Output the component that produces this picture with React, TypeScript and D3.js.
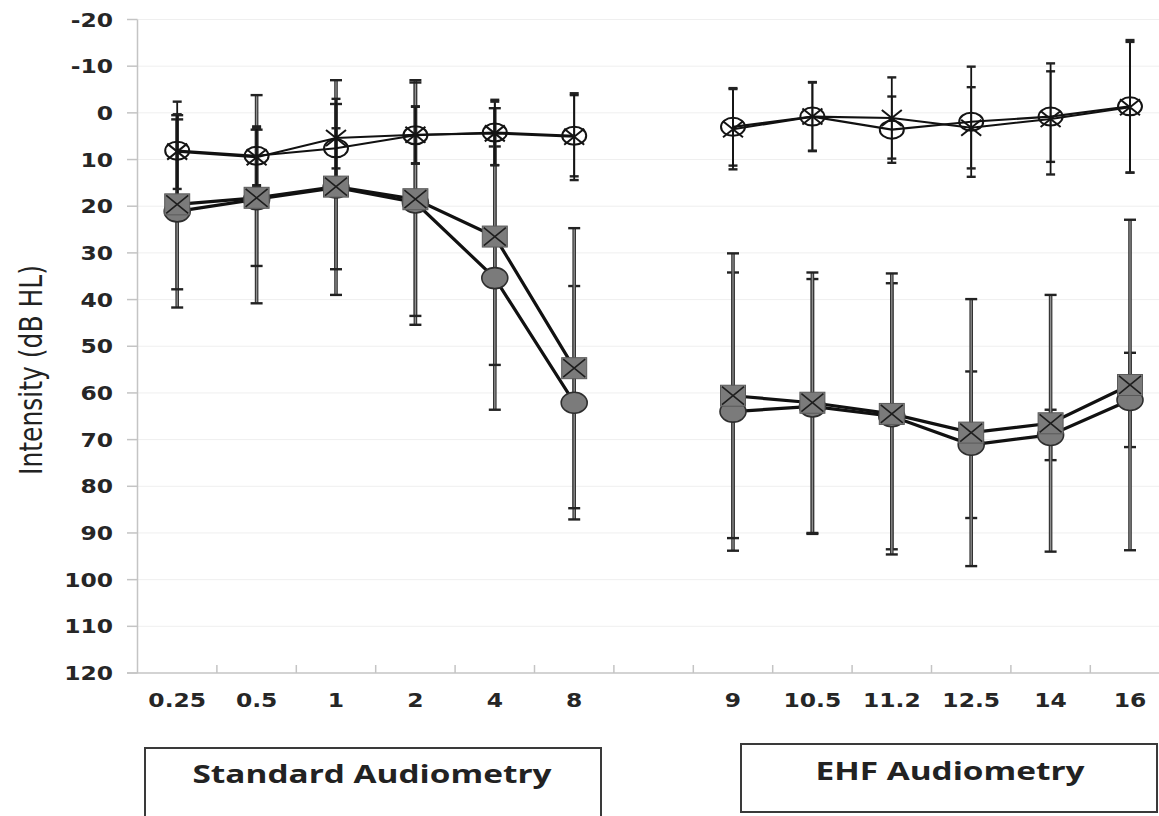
import React from 'react';
import * as d3 from 'd3';

// frequency categories (kHz); a blank slot separates the two audiometry blocks
const standardFreqs = ['0.25', '0.5', '1', '2', '4', '8'];
const ehfFreqs = ['9', '10.5', '11.2', '12.5', '14', '16'];
const gapKey = 'gap';
const categories = [...standardFreqs, gapKey, ...ehfFreqs];
const freqs = [...standardFreqs, ...ehfFreqs];

const yTicks = [-20, -10, 0, 10, 20, 30, 40, 50, 60, 70, 80, 90, 100, 110, 120];

// upper group (thin lines)
const openCircleMean = [8.1, 9.2, 7.6, 4.8, 4.2, 4.9, 3.0, 0.8, 3.6, 1.9, 0.8, -1.4];
const openCircleSd = [10.5, 6.3, 4.3, 6.1, 7.0, 8.7, 8.3, 7.4, 7.1, 11.8, 9.7, 14.2];
const crossMean = [8.3, 9.5, 5.4, 4.7, 4.4, 5.1, 3.5, 0.8, 1.1, 3.2, 1.3, -1.2];
const crossSd = [8.0, 6.3, 8.4, 6.1, 6.8, 9.3, 8.6, 7.3, 8.7, 8.7, 11.9, 14.0];

// lower group (thick lines)
const filledCircleMean = [21.1, 18.5, 16.0, 19.2, 35.4, 62.1, 64.0, 62.9, 65.0, 71.1, 69.0, 61.5];
const filledCircleSd = [20.6, 22.3, 23.0, 26.2, 28.2, 25.0, 29.8, 27.3, 28.5, 15.7, 5.4, 10.1];
const squareCrossMean = [19.6, 18.2, 15.8, 18.5, 26.5, 54.7, 60.6, 62.1, 64.5, 68.5, 66.5, 58.3];
const squareCrossSd = [18.2, 14.6, 17.7, 25.0, 27.5, 30.0, 30.5, 27.9, 30.1, 28.6, 27.5, 35.4];

const groupLabels = ['Standard Audiometry', 'EHF Audiometry'];

type Kind = 'open' | 'cross' | 'disc' | 'square';
interface Series { mean: number[]; sd: number[]; kind: Kind; thick: boolean }

const series: Series[] = [
  { mean: filledCircleMean, sd: filledCircleSd, kind: 'disc', thick: true },
  { mean: squareCrossMean, sd: squareCrossSd, kind: 'square', thick: true },
  { mean: openCircleMean, sd: openCircleSd, kind: 'open', thick: false },
  { mean: crossMean, sd: crossSd, kind: 'cross', thick: false },
];

const W = 1159;
const H = 816;

const x = d3.scaleBand<string>().domain(categories).range([137.5, 1169.7]);
const y = d3.scaleLinear().domain([-20, 120]).range([19.5, 673]);
const cx = (i: number) => (x(freqs[i]) as number) + x.bandwidth() / 2;

const tickFont = '"DejaVu Sans", Verdana, sans-serif';

function Marker({ kind, px, py }: { kind: Kind; px: number; py: number }) {
  if (kind === 'disc') {
    return <ellipse cx={px} cy={py} rx={13} ry={10.5} fill="#7b7b7b" stroke="#2e2e2e" strokeWidth={1.6} />;
  }
  if (kind === 'square') {
    return (
      <g>
        <rect x={px - 12.5} y={py - 10.5} width={25} height={21} fill="#7b7b7b" stroke="#5a5a5a" strokeWidth={1} />
        <path d={`M${px - 11},${py - 9}L${px + 11},${py + 9}M${px - 11},${py + 9}L${px + 11},${py - 9}`} stroke="#1e1e1e" strokeWidth={1.6} />
      </g>
    );
  }
  if (kind === 'open') {
    return <ellipse cx={px} cy={py} rx={12} ry={9} fill="none" stroke="#141414" strokeWidth={2} />;
  }
  return (
    <path d={`M${px - 10},${py - 8}L${px + 10},${py + 8}M${px - 10},${py + 8}L${px + 10},${py - 8}`} stroke="#141414" strokeWidth={2} />
  );
}

export default function App() {
  const segments = [d3.range(0, 6), d3.range(6, 12)];
  const boundaries = d3.range(1, categories.length).map(k => (x(categories[k]) as number));

  return (
    <div>
      <style>{'body{margin:0;background:#fff}'}</style>
      <svg width={W} height={H} style={{ display: 'block' }}>
        <rect width={W} height={H} fill="#fff" />

        {/* gridlines */}
        {yTicks.slice(0, -1).map(t => (
          <line key={'g' + t} x1={138} x2={W} y1={y(t)} y2={y(t)} stroke="#efefef" strokeWidth={1} />
        ))}

        {/* axes */}
        <line x1={137.5} x2={137.5} y1={y(-20)} y2={y(120)} stroke="#c4c4c4" strokeWidth={1.5} />
        <line x1={127} x2={W} y1={y(120)} y2={y(120)} stroke="#c4c4c4" strokeWidth={1.5} />
        {yTicks.map(t => (
          <g key={'yt' + t}>
            <line x1={127} x2={137.5} y1={y(t)} y2={y(t)} stroke="#c4c4c4" strokeWidth={1.5} />
            <text transform={`translate(113,${y(t) + 7}) scale(1.17,1)`} textAnchor="end" fontFamily={tickFont}
              fontWeight="bold" fontSize={20} fill="#262626">{t}</text>
          </g>
        ))}
        {boundaries.map((bx, k) => (
          <line key={'xt' + k} x1={bx} x2={bx} y1={y(120) - 8} y2={y(120)} stroke="#c4c4c4" strokeWidth={1.5} />
        ))}
        {freqs.map((f, i) => (
          <text key={'xl' + f} transform={`translate(${cx(i)},707) scale(1.17,1)`} textAnchor="middle"
            fontFamily={tickFont} fontWeight="bold" fontSize={20} fill="#262626">{f}</text>
        ))}

        {/* y title */}
        <text transform="translate(42,370) scale(1.2,1) rotate(-90)" textAnchor="middle"
          fontFamily='"Liberation Sans Narrow", "DejaVu Sans Condensed", "Liberation Sans", sans-serif'
          fontSize={27} fill="#222" textLength={210} lengthAdjust="spacingAndGlyphs">Intensity (dB HL)</text>

        {/* error bars */}
        {series.map((s, si) => s.mean.map((m, i) => {
          const px = cx(i);
          const top = y(m - s.sd[i]);
          const bot = y(m + s.sd[i]);
          const cw = s.thick ? 6 : 4.5;
          return (
            <g key={`e${si}-${i}`}>
              {s.thick ? (
                <>
                  <line x1={px} x2={px} y1={top} y2={bot} stroke="#333" strokeWidth={3.6} />
                  <line x1={px} x2={px} y1={top} y2={bot} stroke="#8f8f8f" strokeWidth={1.3} />
                </>
              ) : (
                <line x1={px} x2={px} y1={top} y2={bot} stroke="#141414" strokeWidth={1.8} />
              )}
              <line x1={px - cw} x2={px + cw} y1={top} y2={top} stroke="#222" strokeWidth={2.4} />
              <line x1={px - cw} x2={px + cw} y1={bot} y2={bot} stroke="#222" strokeWidth={2.4} />
            </g>
          );
        }))}

        {/* lines */}
        {series.map((s, si) => segments.map((seg, k) => {
          const path = d3.line<number>().x(i => cx(i)).y(i => y(s.mean[i]))(seg) || '';
          return <path key={`l${si}-${k}`} d={path} fill="none" stroke="#111" strokeWidth={s.thick ? 3.2 : 2.1} />;
        }))}

        {/* markers */}
        {series.map((s, si) => s.mean.map((m, i) => (
          <Marker key={`m${si}-${i}`} kind={s.kind} px={cx(i)} py={y(m)} />
        )))}

        {/* group boxes */}
        <rect x={145} y={748} width={456} height={90} fill="#fff" stroke="#3a3a3a" strokeWidth={2} />
        <text x={372} y={783} textAnchor="middle" fontFamily='"Open Sans", "DejaVu Sans", sans-serif' fontWeight="bold"
          fontSize={25} fill="#222" textLength={359} lengthAdjust="spacingAndGlyphs">{groupLabels[0]}</text>
        <rect x={741} y={744} width={416} height={68} fill="#fff" stroke="#3a3a3a" strokeWidth={2} />
        <text x={950} y={780} textAnchor="middle" fontFamily='"Open Sans", "DejaVu Sans", sans-serif' fontWeight="bold"
          fontSize={25} fill="#222" textLength={269} lengthAdjust="spacingAndGlyphs">{groupLabels[1]}</text>
      </svg>
    </div>
  );
}
